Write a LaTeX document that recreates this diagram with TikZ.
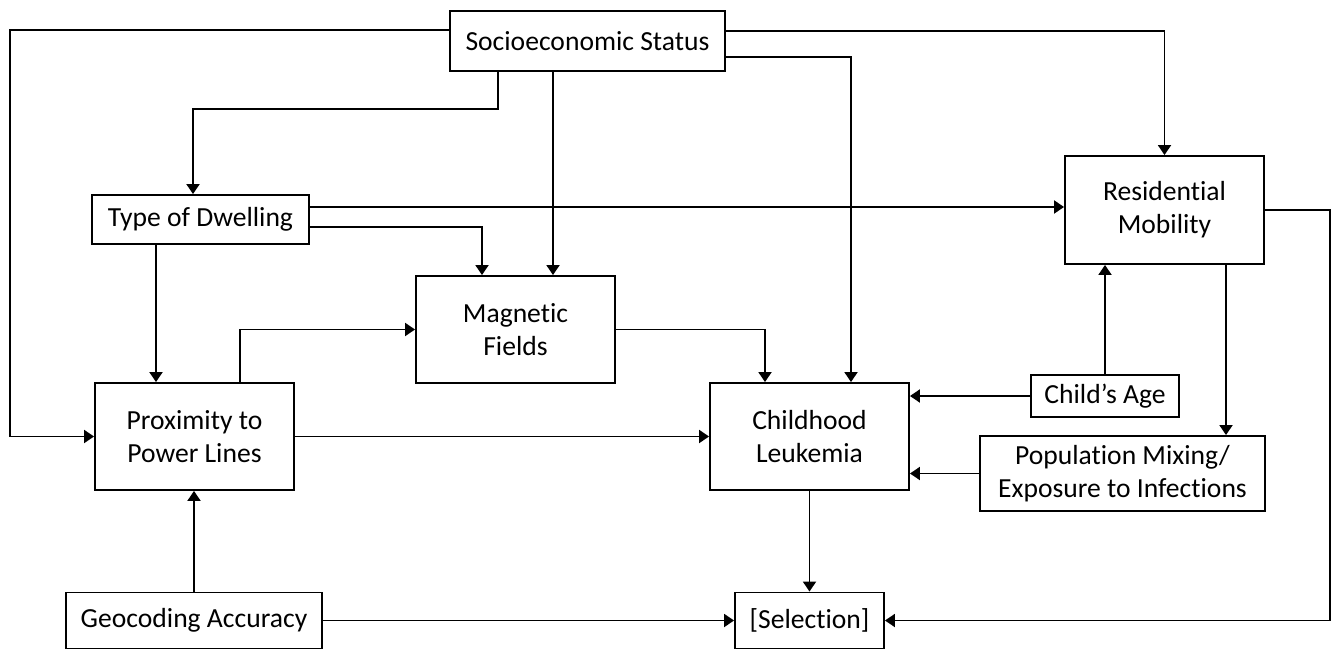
\documentclass[tikz,border=0pt]{standalone}
\usepackage{fontspec}
\setmainfont[Ligatures=NoCommon]{Carlito}
\usetikzlibrary{arrows.meta}
\begin{document}
\begin{tikzpicture}[x=1pt,y=-1pt,
  box/.style={draw,line width=1.9pt,align=center,inner sep=0pt,font=\fontsize{27.6}{33}\selectfont},
  arr/.style={line width=1.9pt,-{Triangle[length=10pt,width=13pt]}}]
\useasboundingbox (0,0) rectangle (1339,650);
\node[box,minimum width=275pt,minimum height=60pt] (SES) at (587.5,41) {Socioeconomic Status};
\node[box,minimum width=217pt,minimum height=49pt] (TOD) at (200.5,219.5) {Type of Dwelling};
\node[box,minimum width=199pt,minimum height=108pt] (RM) at (1164.5,210) {Residential\\Mobility};
\node[box,minimum width=199pt,minimum height=107pt] (MF) at (515.5,329.5) {Magnetic\\Fields};
\node[box,minimum width=199pt,minimum height=107pt] (PPL) at (194.5,436.5) {Proximity to\\Power Lines};
\node[box,minimum width=199pt,minimum height=107pt] (CL) at (809.5,436.5) {Childhood\\Leukemia};
\node[box,minimum width=148pt,minimum height=42pt] (CA) at (1105,396) {Child’s Age};
\node[box,minimum width=285pt,minimum height=75pt] (POP) at (1122.5,473.5) {Population Mixing/\\Exposure to Infections};
\node[box,minimum width=256pt,minimum height=56pt] (GEO) at (194,620.5) {Geocoding Accuracy};
\node[box,minimum width=149pt,minimum height=56pt] (SEL) at (809.5,620.5) {[Selection]};

\coordinate (L1) at (10,30);
\coordinate (R1) at (1330,210);
\coordinate (t1) at ([yshift=12.5pt]TOD.east);
\coordinate (r1) at ([xshift=61.5pt]RM.south);

% SES links
\draw[arr] (SES.west |- L1) -- (L1) |- (PPL.west);
\draw[arr] ([xshift=-89.5pt]SES.south) -- ++(0,37) -| ([xshift=-7.5pt]TOD.north);
\draw[arr] ([xshift=-34.5pt]SES.south) -- ([xshift=37.5pt]MF.north);
\draw[arr] ([yshift=10pt]SES.east) -| (RM.north);
\draw[arr] ([yshift=-16pt]SES.east) -| ([xshift=41.5pt]CL.north);
% Type of dwelling
\draw[arr] (t1) -- (t1 -| RM.west);
\draw[arr] ([yshift=-7.5pt]TOD.east) -| ([xshift=-33.5pt]MF.north);
\draw[arr] ([xshift=-44.5pt]TOD.south) -- ([xshift=-38.5pt]PPL.north);
% Proximity
\draw[arr] ([xshift=45.5pt]PPL.north) |- (MF.west);
\draw[arr] (PPL.east) -- (CL.west);
% Magnetic fields
\draw[arr] (MF.east) -| ([xshift=-44.5pt]CL.north);
% Child's age
\draw[arr] (CA.west) -- (CA.west -| CL.east);
\draw[arr] (CA.north) -- (CA.north |- RM.south);
% Residential mobility
\draw[arr] (r1) -- (r1 |- POP.north);
\draw[arr] (RM.east) -- (R1) |- (SEL.east);
% Population mixing
\draw[arr] (POP.west) -- (POP.west -| CL.east);
% Leukemia
\draw[arr] (CL.south) -- (SEL.north);
% Geocoding
\draw[arr] (GEO.north) -- (GEO.north |- PPL.south);
\draw[arr] (GEO.east) -- (SEL.west);
\end{tikzpicture}
\end{document}
